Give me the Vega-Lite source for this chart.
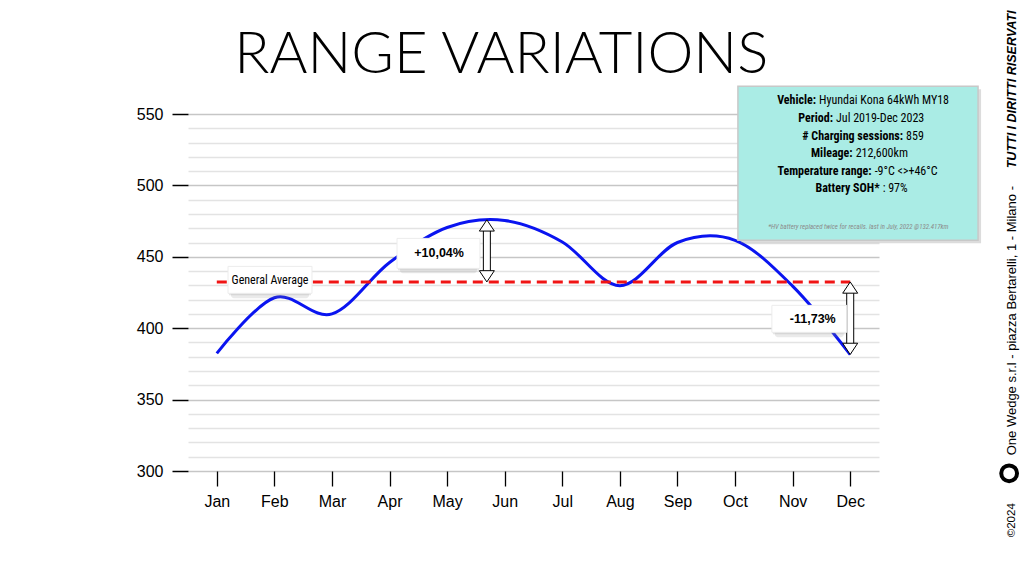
{
  "$schema": "https://vega.github.io/schema/vega-lite/v6.json",
  "width": 691,
  "height": 357,
  "autosize": {"type": "none"},
  "padding": {"left": 188, "top": 114, "right": 145, "bottom": 105},
  "background": "white",
  "config": {"view": {"stroke": null}},
  "datasets": {
    "range": [
      {"m": 1, "v": 382.4},
      {"m": 2, "v": 421.3},
      {"m": 3, "v": 410},
      {"m": 4, "v": 446},
      {"m": 5, "v": 470.5},
      {"m": 6, "v": 475.4},
      {"m": 7, "v": 460.4},
      {"m": 8, "v": 429.8},
      {"m": 9, "v": 460},
      {"m": 10, "v": 461.5},
      {"m": 11, "v": 429.5},
      {"m": 12, "v": 381.6}
    ],
    "avg": [{"m": 1, "m2": 12, "v": 432.4}],
    "arrows": [
      {"m": 5.69, "v": 475.9, "v2": 432.4},
      {"m": 12, "v": 432.4, "v2": 381.6}
    ],
    "boxes": [
      {"m": 1.195, "m2": 2.653, "v": 443.3, "v2": 424.4},
      {"m": 4.13, "m2": 5.57, "v": 462.9, "v2": 441.9},
      {"m": 10.64, "m2": 11.94, "v": 416, "v2": 397.1}
    ],
    "labels": [
      {"m": 1.924, "v": 433.5, "t": "General Average", "k": "avg"},
      {"m": 4.86, "v": 452.4, "t": "+10,04%", "k": "pct"},
      {"m": 11.35, "v": 406.2, "t": "-11,73%", "k": "pct"}
    ],
    "card": [{"m": 10.05, "m2": 14.22, "v": 569.4, "v2": 461.6}],
    "info": [
      {"m": 11.407, "v": 559.6, "label": "Vehicle:", "value": "Hyundai Kona 64kWh MY18"},
      {"m": 11.702, "v": 547.0, "label": "Period:", "value": "Jul 2019-Dec 2023"},
      {"m": 12.918, "v": 534.4, "label": "# Charging sessions:", "value": "859"},
      {"m": 12.042, "v": 522.5, "label": "Mileage:", "value": "212,600km"},
      {"m": 12.372, "v": 509.9, "label": "Temperature range:", "value": "-9°C <>+46°C"},
      {"m": 12.511, "v": 498.0, "label": "Battery SOH*", "value": ": 97%"}
    ],
    "note": [{"m": 12.14, "v": 470.7, "t": "*HV battery replaced twice for recalls. last in July, 2022 @132.417km"}],
    "footer": [
      {"m": 14.81, "v": 253.6, "t": "©2024", "k": "c"},
      {"m": 14.81, "v": 311, "t": "One Wedge s.r.l - piazza Bertarelli, 1 - Milano -", "k": "r"},
      {"m": 14.81, "v": 512, "t": "TUTTI I DIRITTI RISERVATI", "k": "b"}
    ],
    "logo": [{"m": 14.76, "v": 298.4}],
    "heading": [{"m": 5.94, "v": 578.5, "t": "RANGE VARIATIONS"}]
  },
  "encoding": {
    "x": {
      "field": "m",
      "type": "quantitative",
      "title": null,
      "scale": {"domain": [0.5, 12.5], "nice": false, "zero": false},
      "axis": {
        "values": [1, 2, 3, 4, 5, 6, 7, 8, 9, 10, 11, 12],
        "labelExpr": "['Jan','Feb','Mar','Apr','May','Jun','Jul','Aug','Sep','Oct','Nov','Dec'][datum.value - 1]",
        "domain": false,
        "grid": false,
        "tickColor": "black",
        "tickSize": 15,
        "tickWidth": 1.3,
        "labelFont": "Liberation Sans",
        "labelFontSize": 16,
        "labelColor": "black",
        "labelPadding": 7,
        "labelFlush": false,
        "labelOverlap": false
      }
    },
    "y": {
      "field": "v",
      "type": "quantitative",
      "title": null,
      "scale": {"domain": [300, 550], "nice": false, "zero": false},
      "axis": {
        "values": [300, 310, 320, 330, 340, 350, 360, 370, 380, 390, 400, 410, 420, 430, 440, 450, 460, 470, 480, 490, 500, 510, 520, 530, 540, 550],
        "labelExpr": "datum.value % 50 === 0 ? datum.label : ''",
        "domain": false,
        "grid": true,
        "gridColor": {"condition": {"test": "datum.value % 50 === 0", "value": "#c6c6c6"}, "value": "#e3e3e3"},
        "gridWidth": 1.3,
        "tickColor": {"condition": {"test": "datum.value % 50 === 0", "value": "black"}, "value": "rgba(0,0,0,0)"},
        "tickSize": 16,
        "tickWidth": 1.5,
        "labelFont": "Liberation Sans",
        "labelFontSize": 16,
        "labelColor": "black",
        "labelPadding": 9,
        "labelFlush": false,
        "labelOverlap": false
      }
    }
  },
  "layer": [
    {
      "data": {"name": "range"},
      "mark": {"type": "line", "color": "#0a14f0", "strokeWidth": 3, "interpolate": "cardinal"}
    },
    {
      "data": {"name": "avg"},
      "mark": {"type": "rule", "color": "#f01414", "strokeWidth": 3, "strokeDash": [10, 6]},
      "encoding": {"x2": {"field": "m2"}}
    },
    {
      "data": {"name": "arrows"},
      "mark": {"type": "rule", "color": "black", "strokeWidth": 8, "yOffset": 10, "y2Offset": -10},
      "encoding": {"y2": {"field": "v2"}}
    },
    {
      "data": {"name": "arrows"},
      "mark": {"type": "rule", "color": "white", "strokeWidth": 6, "yOffset": 9, "y2Offset": -9},
      "encoding": {"y2": {"field": "v2"}}
    },
    {
      "data": {"name": "arrows"},
      "mark": {"type": "point", "shape": "M0,0L-1,1.5L1,1.5Z", "size": 225, "filled": true, "fill": "white", "stroke": "black", "strokeWidth": 1, "opacity": 1}
    },
    {
      "data": {"name": "arrows"},
      "mark": {"type": "point", "shape": "M0,0L-1,-1.5L1,-1.5Z", "size": 225, "filled": true, "fill": "white", "stroke": "black", "strokeWidth": 1, "opacity": 1},
      "encoding": {"y": {"field": "v2", "type": "quantitative", "title": null}}
    },
    {
      "data": {"name": "boxes"},
      "mark": {"type": "rect", "color": "#8c8c8c", "opacity": 0.18, "xOffset": 3, "x2Offset": -3, "yOffset": 5, "y2Offset": 5, "cornerRadius": 3},
      "encoding": {"x2": {"field": "m2"}, "y2": {"field": "v2"}}
    },
    {
      "data": {"name": "boxes"},
      "mark": {"type": "rect", "color": "#9a9a9a", "opacity": 0.25, "xOffset": 1, "x2Offset": -1, "yOffset": 2, "y2Offset": 2},
      "encoding": {"x2": {"field": "m2"}, "y2": {"field": "v2"}}
    },
    {
      "data": {"name": "boxes"},
      "mark": {"type": "rect", "color": "white", "stroke": "#ececec", "strokeWidth": 1},
      "encoding": {"x2": {"field": "m2"}, "y2": {"field": "v2"}}
    },
    {
      "data": {"name": "labels"},
      "transform": [{"filter": "datum.k == 'avg'"}],
      "mark": {"type": "text", "font": "'Liberation Sans Narrow', 'Arial Narrow', 'Roboto Condensed', Roboto", "fontSize": 12, "color": "black", "align": "center", "baseline": "middle"},
      "encoding": {"text": {"field": "t"}}
    },
    {
      "data": {"name": "labels"},
      "transform": [{"filter": "datum.k == 'pct'"}],
      "mark": {"type": "text", "font": "Liberation Sans", "fontSize": 12.5, "fontWeight": "bold", "color": "black", "align": "center", "baseline": "middle"},
      "encoding": {"text": {"field": "t"}}
    },
    {
      "data": {"name": "card"},
      "mark": {"type": "rect", "color": "#8a8a8a", "opacity": 0.3, "xOffset": 3, "x2Offset": 3, "yOffset": 3, "y2Offset": 3},
      "encoding": {"x2": {"field": "m2"}, "y2": {"field": "v2"}}
    },
    {
      "data": {"name": "card"},
      "mark": {"type": "rect", "color": "#aaece5", "stroke": "#c8c8c8", "strokeWidth": 1.5},
      "encoding": {"x2": {"field": "m2"}, "y2": {"field": "v2"}}
    },
    {
      "data": {"name": "info"},
      "mark": {"type": "text", "font": "'Liberation Sans Narrow', 'Arial Narrow', 'Roboto Condensed', Roboto", "fontSize": 12, "fontWeight": "bold", "color": "black", "align": "right", "baseline": "middle"},
      "encoding": {"text": {"field": "label"}}
    },
    {
      "data": {"name": "info"},
      "mark": {"type": "text", "font": "'Liberation Sans Narrow', 'Arial Narrow', 'Roboto Condensed', Roboto", "fontSize": 12, "color": "black", "align": "left", "baseline": "middle", "dx": 3},
      "encoding": {"text": {"field": "value"}}
    },
    {
      "data": {"name": "note"},
      "mark": {"type": "text", "font": "'Liberation Sans Narrow', 'Arial Narrow', 'Roboto Condensed', Roboto", "fontSize": 6.8, "fontStyle": "italic", "color": "#8a8a8a", "align": "center", "baseline": "middle"},
      "encoding": {"text": {"field": "t"}}
    },
    {
      "data": {"name": "footer"},
      "transform": [{"filter": "datum.k == 'c'"}],
      "mark": {"type": "text", "font": "Liberation Sans", "fontSize": 11.5, "color": "black", "angle": 270, "align": "left", "baseline": "middle"},
      "encoding": {"text": {"field": "t"}}
    },
    {
      "data": {"name": "footer"},
      "transform": [{"filter": "datum.k == 'r'"}],
      "mark": {"type": "text", "font": "Liberation Sans", "fontSize": 13, "color": "black", "angle": 270, "align": "left", "baseline": "middle"},
      "encoding": {"text": {"field": "t"}}
    },
    {
      "data": {"name": "footer"},
      "transform": [{"filter": "datum.k == 'b'"}],
      "mark": {"type": "text", "font": "Liberation Sans", "fontSize": 12.5, "fontWeight": "bold", "fontStyle": "italic", "color": "black", "angle": 270, "align": "left", "baseline": "middle"},
      "encoding": {"text": {"field": "t"}}
    },
    {
      "data": {"name": "logo"},
      "mark": {"type": "point", "shape": "circle", "size": 250, "filled": false, "stroke": "black", "strokeWidth": 4, "opacity": 1}
    },
    {
      "data": {"name": "heading"},
      "mark": {"type": "text", "font": "Lato", "fontWeight": 300, "fontSize": 58, "color": "black", "align": "center", "baseline": "alphabetic"},
      "encoding": {"text": {"field": "t"}}
    }
  ]
}
